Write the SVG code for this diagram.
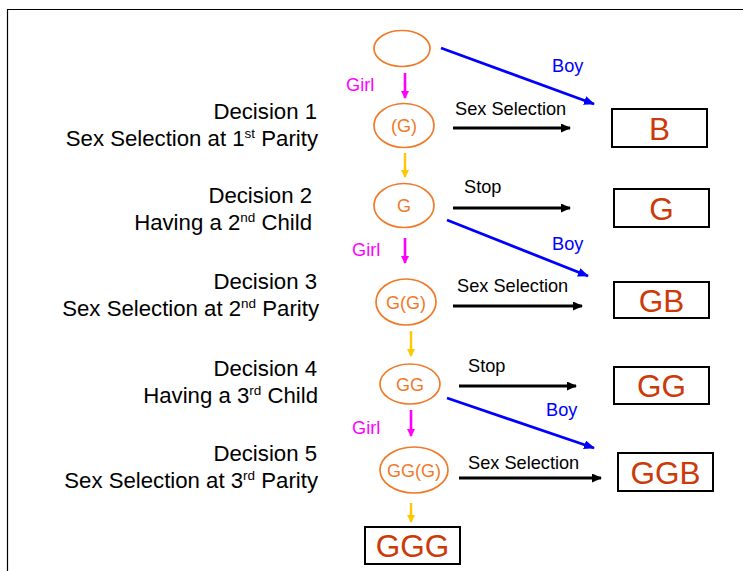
<svg xmlns="http://www.w3.org/2000/svg" width="743" height="571" viewBox="0 0 743 571">
<style>
.lbl{font-family:"Liberation Sans",Arial,sans-serif;font-size:22.2px;fill:#000;text-anchor:end}
.sup{font-size:13.5px}
.node ellipse{fill:#fff;stroke:#F07A28;stroke-width:1.7}
.ntxt{font-family:"Liberation Sans",Arial,sans-serif;font-size:18px;fill:#F07A28;text-anchor:middle}
.box rect{fill:#fff;stroke:#000;stroke-width:2}
.btxt{font-family:"Liberation Sans",Arial,sans-serif;font-size:31.5px;fill:#CC3A0A;text-anchor:middle}
.clbl{font-family:"Liberation Sans",Arial,sans-serif;font-size:18.2px}
.boy{stroke:#0000FF;stroke-width:2.8;fill:none}
.girl{stroke:#FF00FF;stroke-width:2.6;fill:none}
.yel{stroke:#FFC800;stroke-width:2.4;fill:none}
.blk{stroke:#000;stroke-width:2.8;fill:none}
</style>
<defs>
<marker id="mBoy" markerWidth="11" markerHeight="9" refX="10" refY="4.5" orient="auto" markerUnits="userSpaceOnUse"><path d="M0,0 L11,4.5 L0,9 z" fill="#0000FF"/></marker>
<marker id="mGirl" markerWidth="8" markerHeight="8" refX="7" refY="4" orient="auto" markerUnits="userSpaceOnUse"><path d="M0,0 L8,4 L0,8 z" fill="#FF00FF"/></marker>
<marker id="mYel" markerWidth="8" markerHeight="8" refX="7" refY="4" orient="auto" markerUnits="userSpaceOnUse"><path d="M0,0 L8,4 L0,8 z" fill="#FFC800"/></marker>
<marker id="mBlk" markerWidth="10" markerHeight="9" refX="9" refY="4.5" orient="auto" markerUnits="userSpaceOnUse"><path d="M0,0 L10,4.5 L0,9 z" fill="#000"/></marker>
</defs>
<rect x="0" y="0" width="743" height="571" fill="#fff"/>
<path d="M7.5,571 V9.5 H743" fill="none" stroke="#000" stroke-width="1.2"/>

<g id="labels">
<text class="lbl" x="317" y="119">Decision 1</text>
<text class="lbl" x="318" y="146">Sex Selection at 1<tspan class="sup" dy="-8">st</tspan><tspan dy="8"> Parity</tspan></text>
<text class="lbl" x="312" y="203">Decision 2</text>
<text class="lbl" x="312" y="230">Having a 2<tspan class="sup" dy="-8">nd</tspan><tspan dy="8"> Child</tspan></text>
<text class="lbl" x="317" y="289">Decision 3</text>
<text class="lbl" x="319" y="316">Sex Selection at 2<tspan class="sup" dy="-8">nd</tspan><tspan dy="8"> Parity</tspan></text>
<text class="lbl" x="317" y="376">Decision 4</text>
<text class="lbl" x="318" y="403">Having a 3<tspan class="sup" dy="-8">rd</tspan><tspan dy="8"> Child</tspan></text>
<text class="lbl" x="317" y="461">Decision 5</text>
<text class="lbl" x="318" y="488">Sex Selection at 3<tspan class="sup" dy="-8">rd</tspan><tspan dy="8"> Parity</tspan></text>
</g>

<g id="connectors">
<line class="boy" x1="441" y1="48" x2="594" y2="104" marker-end="url(#mBoy)"/>
<line class="boy" x1="447" y1="220" x2="588" y2="276" marker-end="url(#mBoy)"/>
<line class="boy" x1="447" y1="398" x2="594" y2="448" marker-end="url(#mBoy)"/>
<line class="blk" x1="453" y1="128" x2="570" y2="128" marker-end="url(#mBlk)"/>
<line class="blk" x1="453" y1="208" x2="570" y2="208" marker-end="url(#mBlk)"/>
<line class="blk" x1="453" y1="306" x2="582" y2="306" marker-end="url(#mBlk)"/>
<line class="blk" x1="459" y1="386" x2="576" y2="386" marker-end="url(#mBlk)"/>
<line class="blk" x1="459" y1="478" x2="601" y2="478" marker-end="url(#mBlk)"/>
<line class="girl" x1="405" y1="73" x2="405" y2="98" marker-end="url(#mGirl)"/>
<line class="girl" x1="405" y1="238" x2="405" y2="263" marker-end="url(#mGirl)"/>
<line class="girl" x1="411" y1="410" x2="411" y2="436" marker-end="url(#mGirl)"/>
<line class="yel" x1="405" y1="153" x2="405" y2="177" marker-end="url(#mYel)"/>
<line class="yel" x1="411" y1="331" x2="411" y2="356" marker-end="url(#mYel)"/>
<line class="yel" x1="411" y1="503" x2="411" y2="522" marker-end="url(#mYel)"/>
<text class="clbl" x="346" y="91" fill="#FF00FF">Girl</text>
<text class="clbl" x="352" y="256" fill="#FF00FF">Girl</text>
<text class="clbl" x="352" y="434" fill="#FF00FF">Girl</text>
<text class="clbl" x="552" y="72" fill="#0000FF">Boy</text>
<text class="clbl" x="552" y="250" fill="#0000FF">Boy</text>
<text class="clbl" x="546" y="416" fill="#0000FF">Boy</text>
<text class="clbl" x="455" y="115" fill="#000">Sex Selection</text>
<text class="clbl" x="464" y="193" fill="#000">Stop</text>
<text class="clbl" x="457" y="292" fill="#000">Sex Selection</text>
<text class="clbl" x="468" y="372" fill="#000">Stop</text>
<text class="clbl" x="468" y="469" fill="#000">Sex Selection</text>
</g>

<g id="n0" class="node"><ellipse cx="402" cy="48.5" rx="28" ry="18"/></g>
<g id="n1" class="node"><ellipse cx="404" cy="125.5" rx="30" ry="22"/><text class="ntxt" x="404" y="132">(G)</text></g>
<g id="n2" class="node"><ellipse cx="404" cy="205.5" rx="30" ry="22"/><text class="ntxt" x="404" y="212">G</text></g>
<g id="n3" class="node"><ellipse cx="406" cy="302" rx="30" ry="23"/><text class="ntxt" x="406" y="308.5">G(G)</text></g>
<g id="n4" class="node"><ellipse cx="410" cy="384" rx="30" ry="20"/><text class="ntxt" x="410" y="390.5">GG</text></g>
<g id="n5" class="node"><ellipse cx="414" cy="470" rx="34" ry="23"/><text class="ntxt" x="414" y="476.5">GG(G)</text></g>

<g id="bB" class="box"><rect x="612" y="109" width="95" height="38"/><text class="btxt" x="659.5" y="139.5">B</text></g>
<g id="bG" class="box"><rect x="614" y="189" width="95" height="38"/><text class="btxt" x="661.5" y="219.5">G</text></g>
<g id="bGB" class="box"><rect x="614" y="282" width="95" height="36"/><text class="btxt" x="661.5" y="311.5">GB</text></g>
<g id="bGG" class="box"><rect x="614" y="367" width="95" height="37"/><text class="btxt" x="661.5" y="396.5">GG</text></g>
<g id="bGGB" class="box"><rect x="618" y="453" width="95" height="38"/><text class="btxt" x="665.5" y="483.5">GGB</text></g>
<g id="bGGG" class="box"><rect x="365" y="527" width="95" height="37"/><text class="btxt" x="412.5" y="557">GGG</text></g>
</svg>
